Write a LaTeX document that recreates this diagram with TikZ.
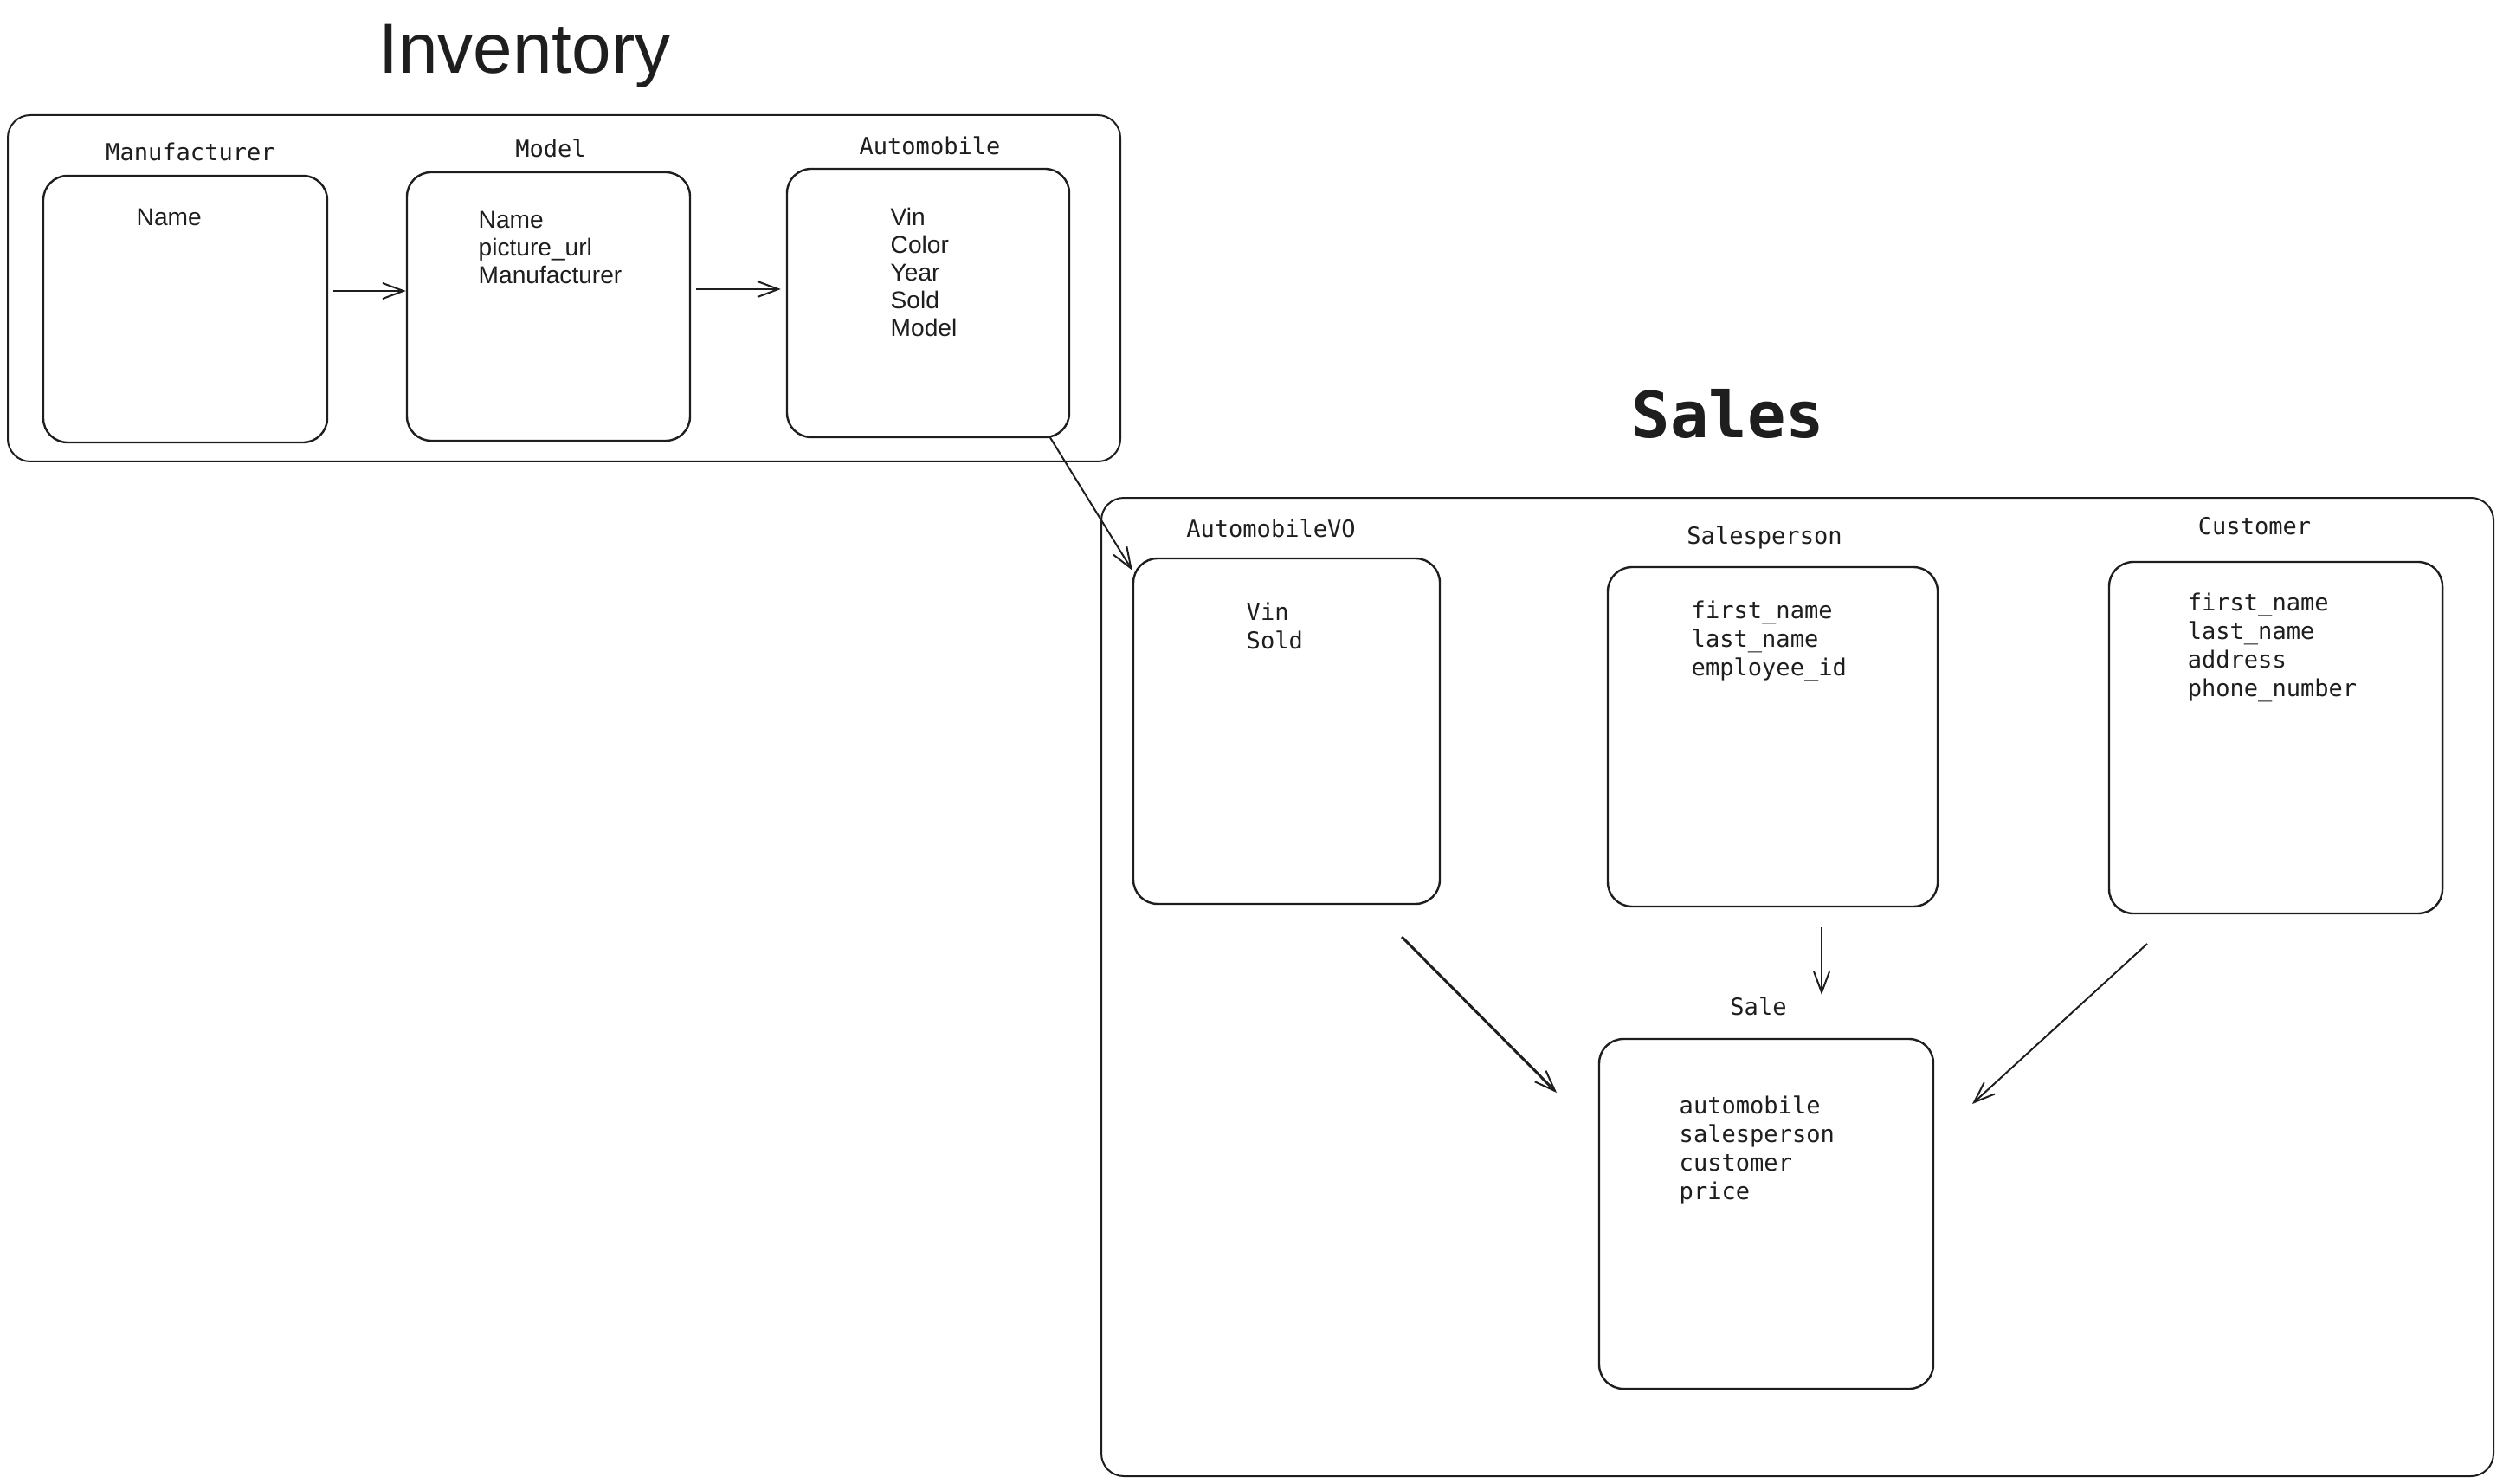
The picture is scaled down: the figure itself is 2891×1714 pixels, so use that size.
\documentclass[tikz,border=0pt]{standalone}
\usepackage{fontspec}
\setmainfont{Liberation Sans}
\setmonofont{DejaVu Sans Mono}
\usetikzlibrary{arrows.meta}
\definecolor{ink}{HTML}{1E1E1E}
\begin{document}
\begin{tikzpicture}[x=0.1mm,y=-0.1mm, color=ink,
  box/.style={draw, line width=0.24mm, rounded corners=2.8mm, inner sep=0},
  outer/.style={draw, line width=0.2mm, rounded corners=2.6mm, inner sep=0},
  lbl/.style={font=\ttfamily\fontsize{7.7pt}{9.4pt}\selectfont, anchor=base, inner sep=0},
  mtxt/.style={font=\ttfamily\fontsize{7.7pt}{9.39pt}\selectfont, align=left, anchor=north west, inner sep=0},
  stxt/.style={font=\fontsize{8pt}{9.1pt}\selectfont, align=left, anchor=north west, inner sep=0},
  arr/.style={line width=0.2mm, -{Straight Barb[length=2.4mm,width=1.8mm,line width=0.2mm]}}
]
\useasboundingbox (0,0) rectangle (2891,1714);

% titles
\node[anchor=base, inner sep=0, font=\fontsize{23.3pt}{28pt}\selectfont] (tinv) at (606,85) {Inventory};
\node[anchor=base, inner sep=0, font=\ttfamily\bfseries\fontsize{21pt}{25pt}\selectfont] (tsales) at (1996,506) {Sales};

% outer frames
\node[outer, minimum width=128.5mm, minimum height=40mm] (inv) at (651.5,333) {};
\node[outer, minimum width=160.8mm, minimum height=113mm] (sales) at (2076,1140) {};

% inventory boxes
\node[box, minimum width=32.8mm, minimum height=30.8mm] (mfr) at (214,357) {};
\node[box, minimum width=32.7mm, minimum height=31mm] (model) at (633.5,354) {};
\node[box, minimum width=32.6mm, minimum height=31mm] (auto) at (1072,350) {};

\node[lbl] (lmfr) at (220,186) {Manufacturer};
\node[lbl] (lmodel) at (636,182) {Model};
\node[lbl] (lauto) at (1074,178.5) {Automobile};

\node[stxt] (xmfr) at (157,240) {Name};
\node[stxt] (xmodel) at (552,243.5) {Name\\picture\_url\\Manufacturer};
\node[stxt] (xauto) at (1028,239) {Vin\\Color\\Year\\Sold\\Model};

% sales boxes
\node[box, minimum width=35.4mm, minimum height=39.9mm] (avo) at (1486,844.5) {};
\node[box, minimum width=38.1mm, minimum height=39.2mm] (sp) at (2047.5,851) {};
\node[box, minimum width=38.5mm, minimum height=40.6mm] (cust) at (2628.5,852) {};
\node[box, minimum width=38.6mm, minimum height=40.4mm] (sale) at (2040,1402) {};

\node[lbl] (lavo) at (1468,621) {AutomobileVO};
\node[lbl] (lsp) at (2038,629) {Salesperson};
\node[lbl] (lcust) at (2604,618) {Customer};
\node[lbl] (lsale) at (2031,1172) {Sale};

\node[mtxt] (xavo) at (1439,695) {Vin\\Sold};
\node[mtxt] (xsp) at (1953,693.5) {first\_name\\last\_name\\employee\_id};
\node[mtxt] (xcust) at (2526,684.5) {first\_name\\last\_name\\address\\phone\_number};
\node[mtxt] (xsale) at (1939,1265.5) {automobile\\salesperson\\customer\\price};

% connectors
\coordinate (a1s) at (385,336);
\draw[arr] (a1s) -- (a1s -| model.west);
\coordinate (a2s) at (804,334);
\draw[arr] (a2s) -- ([xshift=-0.6mm]a2s -| auto.west);
\draw[arr] ([xshift=-2.4mm,yshift=0.2mm]auto.south east) -- ([yshift=-1.5mm]avo.north west);

\coordinate (b1s) at (1619,1082); \coordinate (b1e) at (1798,1262);
\coordinate (b2s) at (2104,1071); \coordinate (b2e) at (2104,1149);
\coordinate (b3s) at (2480,1090); \coordinate (b3e) at (2278,1275);
\draw[arr, line width=0.3mm] (b1s) -- (b1e);
\draw[arr] (b2s) -- (b2e);
\draw[arr] (b3s) -- (b3e);
\end{tikzpicture}
\end{document}
